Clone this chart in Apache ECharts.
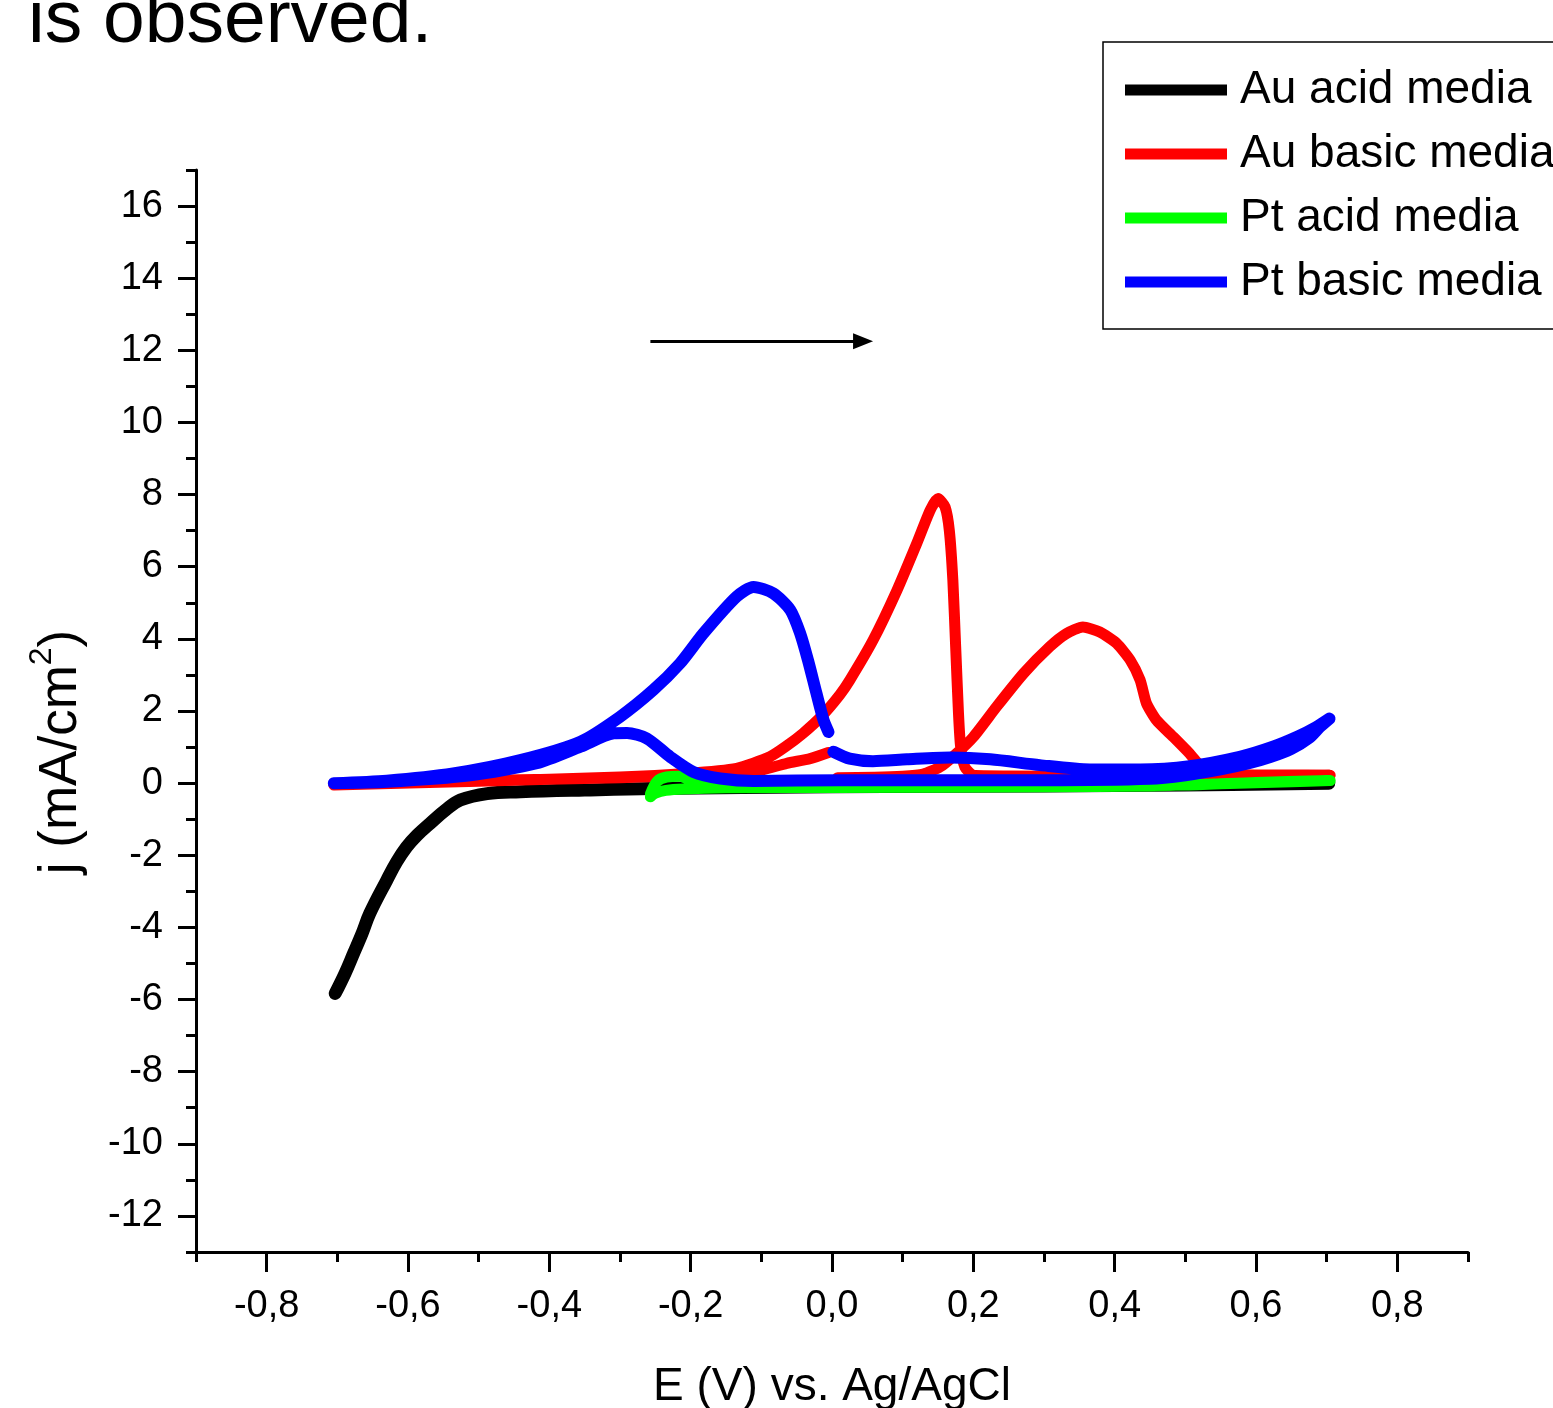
<!DOCTYPE html>
<html>
<head>
<meta charset="utf-8">
<title>CV</title>
<script src="https://cdn.jsdelivr.net/npm/echarts@6/dist/echarts.min.js"></script>
<style>
  html, body { margin: 0; padding: 0; background: #fff; }
  #chart { width: 1553px; height: 1408px; }
</style>
</head>
<body>
<div id="chart"></div>
<script>
// 坐标轴刻度
const xMajor = [-0.8, -0.6, -0.4, -0.2, 0, 0.2, 0.4, 0.6, 0.8]
const xMinor = [-0.9, -0.7, -0.5, -0.3, -0.1, 0.1, 0.3, 0.5, 0.7, 0.9]
const yMajor = [-12, -10, -8, -6, -4, -2, 0, 2, 4, 6, 8, 10, 12, 14, 16]
const yMinor = [-13, -11, -9, -7, -5, -3, -1, 1, 3, 5, 7, 9, 11, 13, 15, 17]

const seriesNames = ['Au acid media', 'Au basic media', 'Pt acid media', 'Pt basic media']

// Au acid media
const auAcidE = [-0.703, -0.689, -0.677, -0.665, -0.654, -0.63, -0.616, -0.602, -0.587, -0.569, -0.547, -0.526, -0.488, -0.441, -0.35, -0.253, 0.0, 0.3, 0.5, 0.703]
const auAcidJ = [-5.83, -5.27, -4.72, -4.17, -3.61, -2.69, -2.18, -1.77, -1.44, -1.12, -0.75, -0.47, -0.29, -0.24, -0.19, -0.15, -0.1, -0.08, -0.05, 0.0]

// Au basic media (0.0 -> 0.7, 回扫到 -0.7, 再正扫到 0.0)
const auBasicE = [0.008, 0.06, 0.1, 0.129, 0.153, 0.176, 0.2, 0.233, 0.271, 0.308, 0.332, 0.355, 0.379, 0.403, 0.422, 0.436, 0.445, 0.459, 0.483, 0.506, 0.516, 0.53, 0.56, 0.705,
  0.6, 0.4, 0.25, 0.2, 0.188, 0.182, 0.179, 0.175, 0.171, 0.166, 0.16, 0.15, 0.139, 0.12, 0.092, 0.058, 0.025, 0.011, -0.015, -0.041, -0.065, -0.088, -0.135, -0.206, -0.3, -0.5, -0.705,
  -0.5, -0.3, -0.2, -0.111, -0.064, -0.031, -0.005]
const auBasicJ = [0.15, 0.16, 0.19, 0.25, 0.45, 0.82, 1.28, 2.12, 3.04, 3.78, 4.15, 4.33, 4.19, 3.87, 3.41, 2.86, 2.21, 1.75, 1.28, 0.82, 0.59, 0.35, 0.24, 0.22,
  0.2, 0.18, 0.2, 0.22, 0.45, 1.01, 1.93, 3.78, 5.63, 7.01, 7.66, 7.89, 7.57, 6.65, 5.35, 3.96, 2.85, 2.45, 1.85, 1.38, 1.02, 0.73, 0.41, 0.27, 0.17, 0.05, -0.05,
  0.07, 0.15, 0.22, 0.31, 0.55, 0.68, 0.85]

// Pt acid media
const ptAcidE = [-0.257, -0.25, -0.235, -0.21, -0.15, 0.0, 0.3, 0.45, 0.55, 0.65, 0.705,
  0.6, 0.5, 0.2, 0.0, -0.15, -0.2, -0.215, -0.234, -0.248, -0.257]
const ptAcidJ = [-0.38, -0.28, -0.2, -0.16, -0.13, -0.12, -0.1, -0.08, -0.02, 0.04, 0.07,
  0.02, -0.05, -0.08, -0.1, -0.08, 0.08, 0.19, 0.17, 0.04, -0.3]

// Pt basic media
const ptBasicE = [0.002, 0.025, 0.058, 0.106, 0.167, 0.224, 0.294, 0.365, 0.436, 0.506, 0.577, 0.624, 0.66, 0.685, 0.704,
  0.69, 0.675, 0.65, 0.62, 0.59, 0.55, 0.5, 0.45, 0.3, 0.15, 0.011, -0.111, -0.158, -0.196, -0.229, -0.262, -0.29, -0.309, -0.356, -0.418, -0.512, -0.63, -0.705,
  -0.63, -0.536, -0.441, -0.356, -0.3, -0.253, -0.215, -0.182, -0.135, -0.111, -0.083, -0.059, -0.045, -0.034, -0.022, -0.012, -0.005]
const ptBasicJ = [0.87, 0.68, 0.61, 0.66, 0.71, 0.66, 0.5, 0.38, 0.38, 0.47, 0.73, 1.01, 1.3, 1.55, 1.79,
  1.55, 1.25, 0.95, 0.72, 0.55, 0.38, 0.22, 0.12, 0.08, 0.08, 0.08, 0.06, 0.13, 0.31, 0.73, 1.24, 1.39, 1.38, 1.01, 0.55, 0.22, 0.04, 0.0,
  0.07, 0.27, 0.64, 1.15, 1.84, 2.58, 3.32, 4.15, 5.17, 5.44, 5.26, 4.8, 4.15, 3.41, 2.49, 1.75, 1.42]

// 扫描方向箭头
const arrowE = [-0.257, 0.044]
const arrowJ = 12.25

const colors = ['#000000', '#ff0000', '#00ff00', '#0000ff']
const lineWidths = [13, 11, 11, 12]
const smoothness = [0.4, 0.2, 0.3, 0.25]

const FONT = '"Liberation Sans", Arial, sans-serif'

const zip = (xs, ys) => xs.map((x, i) => [x, ys[i]])
const allData = [
  zip(auAcidE, auAcidJ),
  zip(auBasicE, auBasicJ),
  zip(ptAcidE, ptAcidJ),
  zip(ptBasicE, ptBasicJ)
]

// 小数点用逗号
const fmt = (v) => v.toFixed(1).replace('.', ',').replace('-0,0', '0,0')

const chart = echarts.init(document.getElementById('chart'))

const series = allData.map((d, i) => {
  return {
    name: seriesNames[i],
    type: 'line',
    data: d,
    showSymbol: false,
    symbol: 'none',
    smooth: smoothness[i],
    color: colors[i],
    lineStyle: { color: colors[i], width: lineWidths[i], cap: 'round', join: 'round' },
    silent: true
  }
})

// 箭头挂在第一条曲线上
series[0].markLine = {
  silent: true,
  symbol: ['none', 'triangle'],
  symbolSize: [16, 20],
  label: { show: false },
  lineStyle: { color: '#000', width: 3, type: 'solid' },
  data: [[{ coord: [arrowE[0], arrowJ] }, { coord: [arrowE[1], arrowJ] }]]
}

const option = {
  animation: false,
  backgroundColor: '#fff',
  graphic: [{
    type: 'text',
    x: 28,
    y: -16,
    style: {
      text: 'is observed.',
      font: '75px ' + FONT,
      fill: '#000',
      verticalAlign: 'top'
    }
  }],
  grid: { left: 196, right: 85, top: 170, bottom: 156, containLabel: false, outerBoundsMode: 'none' },
  legend: {
    data: seriesNames,
    orient: 'vertical',
    left: 1103,
    top: 42,
    padding: [25, 40, 24, 22],
    itemGap: 18,
    itemWidth: 102,
    itemHeight: 11,
    icon: 'rect',
    borderColor: '#000',
    borderWidth: 1.5,
    borderRadius: 0,
    backgroundColor: '#fff',
    textStyle: { color: '#000', fontSize: 46, lineHeight: 46, fontFamily: FONT, padding: [0, 0, 0, 8] }
  },
  xAxis: [{
    type: 'value',
    min: -0.9,
    max: 0.9,
    name: 'E (V) vs. Ag/AgCl',
    nameLocation: 'middle',
    nameGap: 112,
    nameTextStyle: { color: '#000', fontSize: 46, fontFamily: FONT },
    axisLine: { onZero: false, lineStyle: { color: '#000', width: 3 } },
    axisTick: { show: true, customValues: xMajor, length: 20, lineStyle: { color: '#000', width: 3 } },
    axisLabel: { customValues: xMajor, formatter: fmt, color: '#000', fontSize: 38, fontFamily: FONT, margin: 36 },
    splitLine: { show: false }
  }, {
    // 次刻度
    type: 'value',
    position: 'bottom',
    min: -0.9,
    max: 0.9,
    axisLine: { show: false, onZero: false },
    axisTick: { show: true, customValues: xMinor, length: 10, lineStyle: { color: '#000', width: 3 } },
    axisLabel: { show: false },
    splitLine: { show: false }
  }],
  yAxis: [{
    type: 'value',
    min: -13,
    max: 17,
    name: '{a|j (mA/cm}{s|2}{a|)}',
    nameLocation: 'middle',
    nameRotate: 90,
    nameGap: 108,
    nameTextStyle: {
      color: '#000',
      padding: [0, 82, 0, 0],
      rich: {
        a: { fontSize: 53, fontFamily: FONT, color: '#000', lineHeight: 62, verticalAlign: 'bottom' },
        s: { fontSize: 32, fontFamily: FONT, color: '#000', lineHeight: 62, verticalAlign: 'top' }
      }
    },
    axisLine: { onZero: false, lineStyle: { color: '#000', width: 3 } },
    axisTick: { show: true, customValues: yMajor, length: 18, lineStyle: { color: '#000', width: 3 } },
    axisLabel: { customValues: yMajor, color: '#000', fontSize: 38, fontFamily: FONT, margin: 33 },
    splitLine: { show: false }
  }, {
    // 次刻度
    type: 'value',
    position: 'left',
    min: -13,
    max: 17,
    axisLine: { show: false, onZero: false },
    axisTick: { show: true, customValues: yMinor, length: 10, lineStyle: { color: '#000', width: 3 } },
    axisLabel: { show: false },
    splitLine: { show: false }
  }],
  series: series
}

chart.setOption(option)
</script>
</body>
</html>
